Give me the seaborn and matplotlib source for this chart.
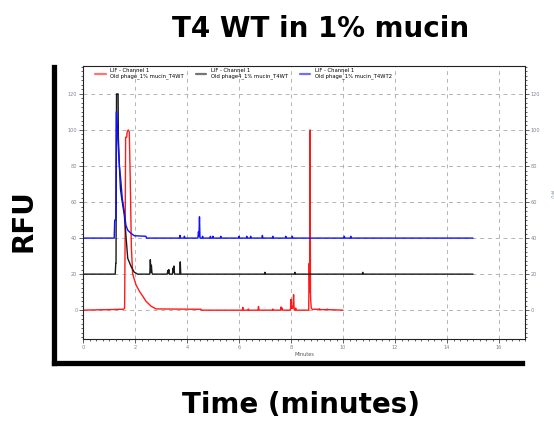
import seaborn as sns
import matplotlib.pyplot as plt
from matplotlib.ticker import MultipleLocator

# electropherogram traces (time in minutes, RFU)
red_time = [0.00, 1.55, 1.60, 1.62, 1.64, 1.68, 1.70, 1.74, 1.78, 1.82, 1.86, 1.91, 2.04, 2.17, 2.30, 2.42, 2.62, 2.81, 4.54, 4.55,
            6.13, 6.15, 6.17, 6.34, 6.36, 6.38, 6.73, 6.75, 6.77, 7.28, 7.30, 7.32, 7.60, 7.62, 7.64, 7.66, 7.68,
            7.98, 8.00, 8.02, 8.04, 8.06, 8.08, 8.10, 8.12, 8.16, 8.18, 8.20,
            8.68, 8.70, 8.72, 8.73, 8.75, 8.76, 8.78, 8.82, 9.08, 9.10, 9.12, 9.38, 9.40, 9.42, 9.99]
red_rfu = [0.0, 0.5, 1.0, 40, 96, 96, 99, 100, 99, 70, 35, 20, 14, 10.5, 7.7, 5.0, 2.2, 0.7, 0.5, 0.0,
           0, 1.5, 0, 0, 0.6, 0, 0, 2.0, 0, 0, 0.6, 0, 0, 1.8, 0.3, 1.2, 0,
           0, 6.0, 1.0, 2.0, 1.0, 3.0, 8.6, 0.5, 0, 1.2, 0,
           0, 26, 10, 100, 9, 5, 1, 0.5, 0.5, 0.8, 0.3, 0.3, 0.6, 0.3, 0]

black_time = [0.00, 1.24, 1.26, 1.27, 1.29, 1.31, 1.35, 1.36, 1.40, 1.44, 1.49, 1.59, 1.65, 1.72, 1.85, 1.97, 2.10,
              2.57, 2.59, 2.61, 2.63, 2.65, 2.67, 3.24, 3.26, 3.28, 3.30, 3.32, 3.44, 3.46, 3.48, 3.50, 3.52, 3.72, 3.74, 3.76,
              6.98, 7.00, 7.02, 8.13, 8.15, 8.17, 10.74, 10.76, 10.78, 15.0]
black_rfu = [20, 20, 26, 26, 120, 120, 120, 96, 80, 67.4, 61.9, 52.7, 41.7, 28.8, 24.2, 21.1, 20,
             20, 28, 21, 25, 21, 20, 20, 22, 20.5, 22.5, 20, 20, 23.3, 21, 24.5, 20, 20, 26.8, 20,
             20, 21, 20, 20, 21, 20, 20, 21, 20, 20]

blue_time = [0.00, 1.20, 1.22, 1.26, 1.28, 1.30, 1.34, 1.40, 1.46, 1.51, 1.59, 1.65, 1.72, 1.85, 1.97, 2.42, 2.44,
             3.71, 3.73, 3.75, 3.88, 3.90, 3.92, 4.00, 4.42, 4.44, 4.46, 4.48, 4.50, 4.58, 4.60, 4.62,
             4.88, 4.90, 4.92, 4.98, 5.00, 5.02, 5.28, 5.30, 5.32, 5.98, 6.00, 6.02, 6.28, 6.30, 6.32, 6.43, 6.45, 6.47,
             6.88, 6.90, 6.92, 7.28, 7.30, 7.32, 7.78, 7.80, 7.82, 8.03, 8.05, 8.07,
             10.03, 10.05, 10.07, 10.28, 10.30, 10.32, 15.0]
blue_rfu = [40, 40, 50, 50, 110, 110, 95, 80, 71, 62, 54.5, 47.2, 44.4, 42.6, 41.3, 41, 40,
            40, 41.5, 40, 40, 41, 40, 40, 40, 43.5, 41, 51.8, 40, 40, 41, 40,
            40, 41, 40, 40, 41, 40, 40, 41, 40, 40, 41, 40, 40, 41, 40, 40, 41, 40,
            40, 41.5, 40, 40, 41, 40, 40, 41, 40, 40, 41, 40,
            40, 41, 40, 40, 41, 40, 40]

labels = ['LIF - Channel 1\nOld phage_1% mucin_T4WT',
          'LIF - Channel 1\nOld phage4_1% mucin_T4WT',
          'LIF - Channel 1\nOld phage_1% mucin_T4WT2']
x_ticks = [0, 2, 4, 6, 8, 10, 12, 14, 16]
y_ticks = [0, 20, 40, 60, 80, 100, 120]

sns.set_theme(style='white')
plt.rcParams['font.family'] = ['DejaVu Sans']
plt.rcParams['text.color'] = 'black'

W, H = 554, 426
fig = plt.figure(figsize=(W / 100, H / 100), dpi=100)

# big outer frame (slide axes)
outer = fig.add_axes([53.5 / W, 1 - 362.5 / H, (522 - 53.5) / W, (362.5 - 67) / H])
outer.set_facecolor('none')
outer.set_xticks([])
outer.set_yticks([])
for s in ['top', 'right']:
    outer.spines[s].set_visible(False)
for s in ['left', 'bottom']:
    outer.spines[s].set_linewidth(3.8)
    outer.spines[s].set_color('black')

fig.text(321 / W, 1 - 37 / H, 'T4 WT in 1% mucin', ha='center', va='baseline',
         fontsize=20, fontweight='bold', color='black')
fig.text(301 / W, 1 - 413 / H, 'Time (minutes)', ha='center', va='baseline',
         fontsize=20, fontweight='bold', color='black')
fig.text(23 / W, 1 - 221 / H, 'RFU', ha='center', va='center', rotation=90,
         fontsize=20, fontweight='bold', color='black')

# inner instrument plot
ax = fig.add_axes([83 / W, 1 - 339 / H, (525 - 83) / W, (339 - 66) / H])
ax.set_facecolor('white')
ax.set_zorder(2)

sns.lineplot(x=red_time, y=red_rfu, estimator=None, sort=False, color='#ff1a1a',
             linewidth=1.0, label=labels[0], ax=ax)
sns.lineplot(x=black_time, y=black_rfu, estimator=None, sort=False, color='#1a1a1a',
             linewidth=1.0, label=labels[1], ax=ax)
sns.lineplot(x=blue_time, y=blue_rfu, estimator=None, sort=False, color='#1010ff',
             linewidth=1.0, label=labels[2], ax=ax)

ax.set_xlim(0, 17)
ax.set_ylim(-16, 135.5)
ax.set_xticks(x_ticks)
ax.set_yticks(y_ticks)
ax.xaxis.set_minor_locator(MultipleLocator(0.25))
ax.yaxis.set_minor_locator(MultipleLocator(2.5))
ax.grid(True, which='major', color='#b4b4b4', linestyle=(0, (4, 4)), linewidth=0.7)

ax.tick_params(which='both', direction='out', left=True, right=True, bottom=True,
               labelright=True, labelsize=3.6, labelcolor='#7c8696', color='#222222',
               width=0.5, pad=1)
ax.tick_params(which='major', length=3)
ax.tick_params(which='minor', length=1.6)
for s in ax.spines.values():
    s.set_color('#222222')
    s.set_linewidth(0.8)

ax.set_xlabel('Minutes', fontsize=3.6, color='#555555', labelpad=1.5)
ax.set_ylabel('')
fig.text(551 / W, 1 - 194 / H, 'RFU', rotation=270, ha='center', va='center',
         fontsize=3.2, color='#7c8696')

leg = ax.legend(loc='upper left', bbox_to_anchor=(0.02, 1.005), ncol=3, frameon=False,
                fontsize=3.8, handlelength=2.0, handletextpad=0.9, columnspacing=2.2,
                borderaxespad=0.2)
for line in leg.get_lines():
    line.set_alpha(0.6)
    line.set_linewidth(1.6)

fig.savefig('out.png', dpi=100)
